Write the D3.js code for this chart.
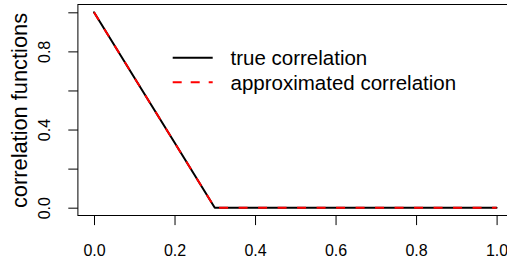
<!DOCTYPE html>
<html>
<head>
<meta charset="utf-8">
<script src="https://cdn.jsdelivr.net/npm/d3@7"></script>
<style>
  html, body { margin: 0; padding: 0; background: #fff; }
  svg { display: block; }
  text { font-family: "Liberation Sans", Arial, Helvetica, sans-serif; fill: #000; }
</style>
</head>
<body>
<svg id="chart" width="507" height="265"></svg>
<script>
// ---- data ----
const lags = [0, 0.1, 0.2, 0.3, 0.4, 0.5, 0.6, 0.7, 0.8, 0.9, 1.0];
const trueCorr = [1, 0.6667, 0.3333, 0, 0, 0, 0, 0, 0, 0, 0];
const approxCorr = [1, 0.6667, 0.3333, 0, 0, 0, 0, 0, 0, 0, 0];
const xTicks = [0, 0.2, 0.4, 0.6, 0.8, 1.0];
const xTickLabels = ["0.0", "0.2", "0.4", "0.6", "0.8", "1.0"];
const yTicks = [0, 0.2, 0.4, 0.6, 0.8, 1.0];
const yTickLabels = ["0.0", "", "0.4", "", "0.8", ""];
const seriesNames = ["true correlation", "approximated correlation"];
const yTitle = "correlation functions";

// ---- layout ----
const svg = d3.select("#chart");
const x = d3.scaleLinear().domain([-0.04, 1.04]).range([77.9, 512.7]);
const y = d3.scaleLinear().domain([-0.04, 1.04]).range([215.5, 4.5]);

// box (right edge falls outside canvas)
svg.append("rect")
  .attr("x", x(-0.04)).attr("y", y(1.04))
  .attr("width", x(1.04) - x(-0.04)).attr("height", y(-0.04) - y(1.04))
  .attr("fill", "none").attr("stroke", "#000").attr("stroke-width", 1);

// x axis
const xAxis = d3.axisBottom(x).tickValues(xTicks)
  .tickFormat((d, i) => xTickLabels[i]).tickSize(9.6).tickPadding(0);
const gx = svg.append("g").attr("transform", `translate(0,${y(-0.04)})`).call(xAxis);
gx.select(".domain").remove();
gx.selectAll(".tick line").attr("stroke", "#000");
gx.selectAll(".tick text")
  .attr("y", 40.5).attr("dy", null)
  .attr("font-size", 16);

// y axis
const yAxis = d3.axisLeft(y).tickValues(yTicks)
  .tickFormat((d, i) => yTickLabels[i]).tickSize(9.6);
const gy = svg.append("g").attr("transform", `translate(${x(-0.04)},0)`).call(yAxis);
gy.select(".domain").remove();
gy.selectAll(".tick line").attr("stroke", "#000");
gy.selectAll(".tick text")
  .attr("x", null).attr("dy", null)
  .attr("text-anchor", "middle")
  .attr("font-size", 16)
  .attr("transform", `translate(${50 - x(-0.04)},0) rotate(-90)`);

// y title
svg.append("text")
  .attr("transform", `translate(27,${(y(1.04) + y(-0.04)) / 2 + 0.5}) rotate(-90)`)
  .attr("text-anchor", "middle")
  .attr("font-size", 21.8)
  .text(yTitle);

// lines
const pts = (vals) => lags.map((l, i) => [l, vals[i]]);
const line = d3.line().x(d => x(d[0])).y(d => y(d[1]));

svg.append("path").datum(pts(trueCorr))
  .attr("d", line).attr("fill", "none")
  .attr("stroke", "#000").attr("stroke-width", 2)
  .attr("stroke-linecap", "round").attr("stroke-linejoin", "round");

svg.append("path").datum(pts(approxCorr))
  .attr("d", line).attr("fill", "none")
  .attr("stroke", "#ff0000").attr("stroke-width", 2)
  .attr("stroke-dasharray", "9,10.5")
  .attr("stroke-linejoin", "round");

// legend
const legY = [57.7, 82.3];
const legStyles = [
  { color: "#000", dash: null },
  { color: "#ff0000", dash: "9,9" }
];
seriesNames.forEach((name, i) => {
  svg.append("line")
    .attr("x1", 172.7).attr("x2", 212.7)
    .attr("y1", legY[i]).attr("y2", legY[i])
    .attr("stroke", legStyles[i].color).attr("stroke-width", 2)
    .attr("stroke-dasharray", legStyles[i].dash);
  svg.append("text")
    .attr("x", 230.5).attr("y", legY[i] + 7.3)
    .attr("font-size", 20.5)
    .text(name);
});
</script>
</body>
</html>
